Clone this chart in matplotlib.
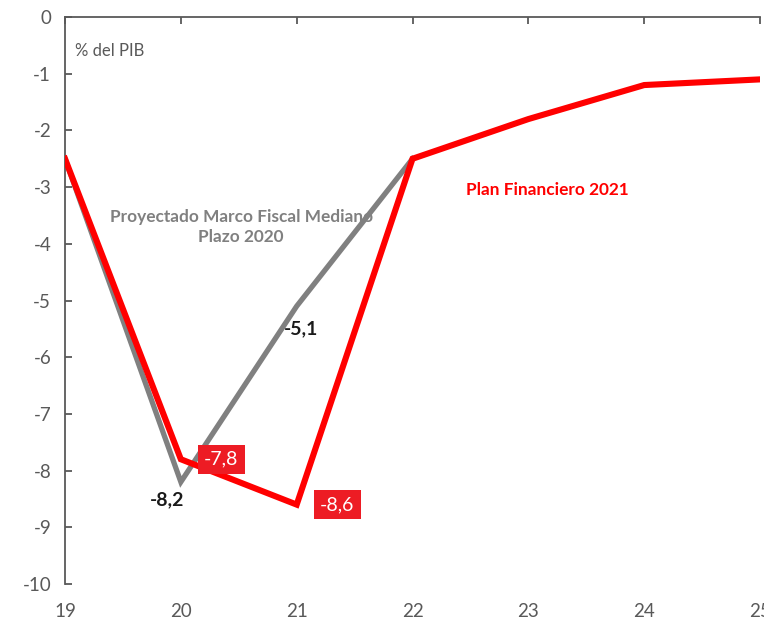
import matplotlib.pyplot as plt

plt.rcParams["font.family"] = ["Lato", "DejaVu Sans"]
plt.rcParams["axes.unicode_minus"] = False

# data (% del PIB)
years = [19, 20, 21, 22, 23, 24, 25]
plan_2021 = [-2.5, -7.8, -8.6, -2.5, -1.8, -1.2, -1.1]
mfmp_years = [19, 20, 21, 22]
mfmp_2020 = [-2.5, -8.2, -5.1, -2.5]

axis_grey = "#595959"

fig = plt.figure(figsize=(7.64, 6.21), dpi=100)
ax = fig.add_axes([0.0851, 0.0596, 0.9097, 0.913])

ax.plot(mfmp_years, mfmp_2020, color="#808080", lw=3.8, solid_joinstyle="miter", zorder=2)
ax.plot(years, plan_2021, color="#FF0000", lw=4.4, solid_joinstyle="miter", zorder=3)

ax.set_xlim(19, 25)
ax.set_ylim(-10, 0)
ax.set_xticks(years)
ax.set_yticks(range(-10, 1))

# x axis sits on y=0 (top), labels at the bottom
for s in ["right", "bottom"]:
    ax.spines[s].set_visible(False)
for s in ["left", "top"]:
    ax.spines[s].set_color(axis_grey)
    ax.spines[s].set_linewidth(1.3)
ax.tick_params(axis="x", direction="in", length=5, width=1.3, color=axis_grey,
               top=True, bottom=False, labeltop=False, labelbottom=True,
               labelsize=13.5, labelcolor=axis_grey, pad=14)
ax.tick_params(axis="y", direction="in", length=5, width=1.3, color=axis_grey,
               labelsize=13.5, labelcolor=axis_grey, pad=10)

ax.text(19.086, -0.6, "% del PIB", fontsize=12, color=axis_grey, va="center", ha="left")
ax.text(20.52, -3.7, "Proyectado Marco Fiscal Mediano\nPlazo 2020", fontsize=12.4,
        fontweight="bold", color="#808080", ha="center", va="center", linespacing=1.35)
ax.text(23.16, -3.05, "Plan Financiero 2021", fontsize=12.4, fontweight="bold",
        color="#FF0000", ha="center", va="center")

# data labels
ax.text(19.88, -8.52, "-8,2", fontsize=14, fontweight="bold", color="#1a1a1a", ha="center", va="center")
ax.text(21.04, -5.5, "-5,1", fontsize=14, fontweight="bold", color="#1a1a1a", ha="center", va="center")
box = dict(boxstyle="square,pad=0.32", fc="#ED1C24", ec="none")
ax.text(20.35, -7.8, "-7,8", fontsize=14, color="white", ha="center", va="center", bbox=box, zorder=4)
ax.text(21.35, -8.6, "-8,6", fontsize=14, color="white", ha="center", va="center", bbox=box, zorder=4)

fig.savefig("out.png", dpi=100)
